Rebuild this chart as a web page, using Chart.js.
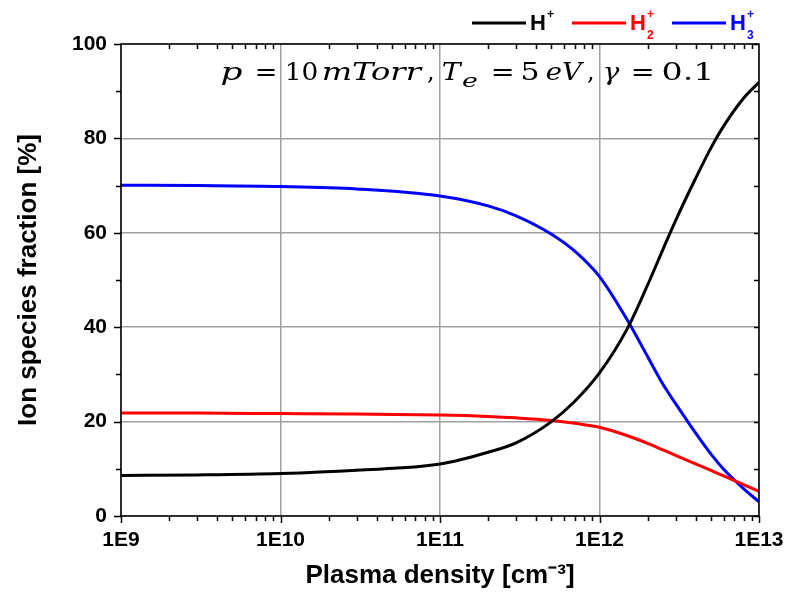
<!DOCTYPE html>
<html>
<head>
<meta charset="utf-8">
<script src="https://cdn.jsdelivr.net/npm/chart.js@4/dist/chart.umd.min.js"></script>
<style>
html,body{margin:0;padding:0;background:#ffffff;}
canvas{display:block;}
</style>
</head>
<body>
<canvas id="c" width="787" height="599"></canvas>
<script>
// ---- data ----
const densities = [1e9, 3e9, 1e10, 3e10, 1e11, 2e11, 3e11, 5e11, 7e11, 1e12, 1.5e12, 2e12, 2.5e12, 3e12, 4e12, 5e12, 6e12, 8e12, 1e13];
const hPlus  = [8.6, 8.7, 9.0, 9.7, 11.0, 13.5, 15.5, 20.0, 24.3, 30.3, 39.8, 48.9, 56.5, 62.6, 71.5, 78.0, 82.6, 88.5, 91.9];
const h2Plus = [21.8, 21.8, 21.7, 21.6, 21.4, 21.1, 20.8, 20.25, 19.65, 18.8, 17.0, 15.4, 14.0, 12.85, 11.05, 9.65, 8.5, 6.65, 5.2];
const h3Plus = [70.1, 70.0, 69.8, 69.3, 67.8, 65.7, 63.6, 59.7, 56.1, 50.7, 41.4, 33.8, 27.9, 23.8, 17.6, 13.1, 9.9, 5.8, 3.0];
const seriesNames = ['H⁺', 'H₂⁺', 'H₃⁺'];
const legendSubs = ['', '2', '3'];
const seriesColors = ['#000000', '#ff0000', '#0000ff'];
const xTickValues = [1e9, 1e10, 1e11, 1e12, 1e13];
const xTickLabels = ['1E9', '1E10', '1E11', '1E12', '1E13'];
const yTickValues = [0, 20, 40, 60, 80, 100];
const xTitle = 'Plasma density [cm⁻³]';
const yTitle = 'Ion species fraction [%]';
// annotation tokens: text, style, isSubscript, ink start x, ink end x (layout only)
const noteTokens = [
  ['p', 'italic', 0, 222, 242], ['=', '', 0, 257, 275], ['10', '', 0, 287, 317],
  ['mTorr', 'italic', 0, 323, 423], [',', '', 0, 427, 433],
  ['T', 'italic', 0, 443, 463], ['e', 'italic', 1, 462, 477], ['=', '', 0, 493, 512],
  ['5', '', 0, 523, 538], ['eV', 'italic', 0, 547, 585], [',', '', 0, 587, 593],
  ['γ', 'italic', 0, 605, 620], ['=', '', 0, 633, 652], ['0.1', '', 0, 663, 710]
];

const SANS = "'Liberation Sans', Arial, sans-serif";
const SERIF = "'DejaVu Serif', 'Liberation Serif', serif";

const datasets = [hPlus, h2Plus, h3Plus].map((vals, k) => ({
  label: seriesNames[k],
  data: densities.map((d, i) => ({x: d, y: vals[i]})),
  borderColor: seriesColors[k],
  backgroundColor: seriesColors[k],
  borderWidth: 3,
  pointRadius: 0,
  fill: false,
  cubicInterpolationMode: 'monotone'
}));

function line(ctx, x1, y1, x2, y2){ ctx.beginPath(); ctx.moveTo(x1, y1); ctx.lineTo(x2, y2); ctx.stroke(); }

const decorPlugin = {
  id: 'decor',
  afterDraw(chart){
    const ctx = chart.ctx, a = chart.chartArea, xs = chart.scales.x, ys = chart.scales.y;
    ctx.save();
    ctx.strokeStyle = '#000';
    ctx.lineWidth = 1.5;
    for (let e = 9; e <= 13; e++) {
      for (let m = 1; m <= 9; m++) {
        const v = m * Math.pow(10, e);
        if (v > 1e13 * 1.0001) break;
        const px = Math.round(xs.getPixelForValue(v)) + 0.5;
        const major = (m === 1);
        line(ctx, px, a.bottom, px, a.bottom + (major ? 7 : 5));
        if (!major) line(ctx, px, a.top, px, a.top + 5);
      }
    }
    for (let v = 0; v <= 100; v += 10) {
      const py = Math.round(ys.getPixelForValue(v)) + 0.5;
      const major = (v % 20 === 0);
      line(ctx, a.left - (major ? 7 : 5), py, a.left, py);
      line(ctx, a.right - 5, py, a.right, py);
    }
    ctx.strokeRect(a.left, a.top, a.right - a.left, a.bottom - a.top);

    // legend with sub/superscripts
    const lx = [472, 572, 672];
    for (let k = 0; k < 3; k++) {
      ctx.strokeStyle = seriesColors[k];
      ctx.lineWidth = 3;
      line(ctx, lx[k], 23, lx[k] + 54, 23);
      ctx.fillStyle = seriesColors[k];
      ctx.textBaseline = 'alphabetic';
      ctx.textAlign = 'left';
      ctx.font = 'bold 22px ' + SANS;
      ctx.fillText('H', lx[k] + 58, 30);
      const hw = ctx.measureText('H').width;
      ctx.font = 'bold 12px ' + SANS;
      ctx.fillText('+', lx[k] + 59 + hw, 18);
      if (legendSubs[k]) ctx.fillText(legendSubs[k], lx[k] + 59 + hw, 39);
    }

    // annotation  p = 10 mTorr, Te = 5 eV, γ = 0.1
    ctx.fillStyle = '#000';
    ctx.textAlign = 'left';
    ctx.textBaseline = 'alphabetic';
    for (const t of noteTokens) {
      const size = t[2] ? 18 : 24;
      ctx.font = (t[1] ? t[1] + ' ' : '') + size + 'px ' + SERIF;
      const m = ctx.measureText(t[0]);
      const ink = m.actualBoundingBoxLeft + m.actualBoundingBoxRight;
      const sx = Math.max(0.6, Math.min(1.8, (t[4] - t[3]) / ink));
      ctx.save();
      ctx.translate(t[3], t[2] ? 87 : 80);
      ctx.scale(sx, 1);
      ctx.fillText(t[0], m.actualBoundingBoxLeft, 0);
      ctx.restore();
    }
    ctx.restore();
  }
};

new Chart(document.getElementById('c'), {
  type: 'line',
  data: { datasets },
  options: {
    responsive: false,
    devicePixelRatio: 1,
    animation: false,
    layout: { padding: { top: 44, right: 28, left: 0, bottom: 0 } },
    plugins: { legend: { display: false }, tooltip: { enabled: false } },
    scales: {
      x: {
        type: 'logarithmic',
        min: 1e9, max: 1e13,
        afterBuildTicks: s => { s.ticks = xTickValues.map(v => ({ value: v, major: true })); },
        afterFit: s => { s.height = 83; s.paddingRight = 0; s.paddingLeft = 0; },
        ticks: {
          autoSkip: false, maxRotation: 0, padding: 12, color: '#000',
          font: { family: SANS, size: 21, weight: 'bold' },
          callback: (v, i) => xTickLabels[i]
        },
        grid: { color: '#a0a0a0', lineWidth: 1.5, drawTicks: false },
        border: { display: false },
        title: { display: true, text: xTitle, color: '#000', padding: { bottom: 8, top: 0 },
                 font: { family: SANS, size: 26, weight: 'bold' } }
      },
      y: {
        min: 0, max: 100,
        afterBuildTicks: s => { s.ticks = yTickValues.map(v => ({ value: v })); },
        afterFit: s => { s.width = 121; s.paddingTop = 0; s.paddingBottom = 0; },
        ticks: { padding: 14, color: '#000', font: { family: SANS, size: 21, weight: 'bold' } },
        grid: { color: '#a0a0a0', lineWidth: 1.5, drawTicks: false },
        border: { display: false },
        title: { display: true, text: yTitle, color: '#000', padding: { top: 13, bottom: 0 },
                 font: { family: SANS, size: 26, weight: 'bold' } }
      }
    }
  },
  plugins: [decorPlugin]
});
</script>
</body>
</html>
